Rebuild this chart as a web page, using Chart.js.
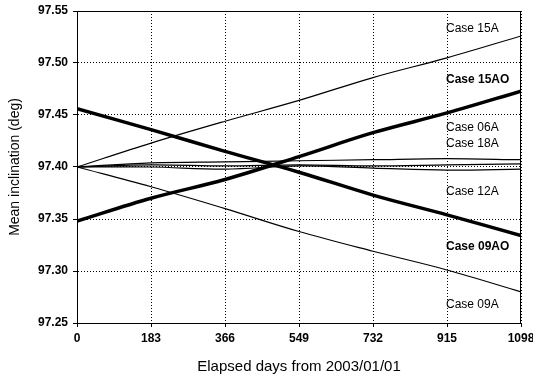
<!DOCTYPE html>
<html>
<head>
<meta charset="utf-8">
<script src="https://cdn.jsdelivr.net/npm/chart.js@4/dist/chart.umd.min.js"></script>
<style>
  html, body { margin: 0; padding: 0; background: #fff; }
  #wrap { width: 533px; height: 378px; position: relative; }
</style>
</head>
<body>
<div id="wrap"><canvas id="c" width="533" height="378"></canvas></div>
<script>
// ---- data ----
const days = [0, 183, 366, 549, 732, 915, 1098];
const yTicks = [97.25, 97.30, 97.35, 97.40, 97.45, 97.50, 97.55];

const case15A  = [97.400, 97.423, 97.444, 97.464, 97.486, 97.505, 97.526];
const case15AO = [97.348, 97.370, 97.388, 97.410, 97.433, 97.452, 97.473];
const case06A  = [97.400, 97.404, 97.405, 97.406, 97.407, 97.408, 97.407];
const case18A  = [97.400, 97.402, 97.401, 97.402, 97.401, 97.402, 97.403];
const case12A  = [97.400, 97.400, 97.398, 97.401, 97.399, 97.397, 97.398];
const case09AO = [97.456, 97.436, 97.415, 97.395, 97.373, 97.354, 97.334];
const case09A  = [97.400, 97.381, 97.360, 97.338, 97.319, 97.301, 97.280];

// curve labels (text, and the data point they sit at)
const labelTexts  = ['Case 15A', 'Case 15AO', 'Case 06A', 'Case 18A', 'Case 12A', 'Case 09AO', 'Case 09A'];
const labelDay    = 915;
const labelValues = [97.533, 97.484, 97.4375, 97.422, 97.376, 97.323, 97.268];
const labelBold   = [false, true, false, false, false, true, false];

// ---- chart ----
function pts(vals) { return days.map((d, i) => ({ x: d, y: vals[i] })); }
function ds(label, vals, w) {
  return { label, data: pts(vals), borderColor: '#000', backgroundColor: '#000',
           borderWidth: w, pointRadius: 0, tension: 0.35, fill: false };
}

const frame = {
  id: 'frame',
  afterDatasetsDraw(chart) {
    const { ctx, chartArea: a } = chart;
    ctx.save();
    ctx.strokeStyle = '#000';
    ctx.lineWidth = 1;
    ctx.setLineDash([]);
    ctx.strokeRect(a.left + 0.5, a.top + 0.5, a.right - a.left - 1, a.bottom - a.top);
    ctx.restore();
    const xs = chart.scales.x, ys = chart.scales.y;
    ctx.save();
    ctx.fillStyle = '#000';
    ctx.textAlign = 'left';
    ctx.textBaseline = 'middle';
    labelTexts.forEach((t, i) => {
      ctx.font = (labelBold[i] ? 'bold ' : '') + '12px "Liberation Sans", Arial, sans-serif';
      ctx.fillText(t, xs.getPixelForValue(labelDay) - 1, ys.getPixelForValue(labelValues[i]));
    });
    ctx.restore();
  }
};

new Chart(document.getElementById('c'), {
  type: 'line',
  data: {
    datasets: [
      ds('Case 15A', case15A, 1.2),
      ds('Case 15AO', case15AO, 3.5),
      ds('Case 06A', case06A, 1.2),
      ds('Case 18A', case18A, 1.2),
      ds('Case 12A', case12A, 1.2),
      ds('Case 09AO', case09AO, 3.5),
      ds('Case 09A', case09A, 1.2)
    ]
  },
  options: {
    responsive: false,
    animation: false,
    devicePixelRatio: 1,
    layout: { padding: { top: 11, right: 12, left: 0, bottom: 0 } },
    plugins: { legend: { display: false }, tooltip: { enabled: false } },
    scales: {
      x: {
        type: 'linear', min: 0, max: 1098,
        afterBuildTicks(s) { s.ticks = days.map(v => ({ value: v })); },
        afterFit(s) { s.height = 55; s.paddingLeft = 0; s.paddingRight = 0; },
        ticks: { color: '#000', font: { family: '"Liberation Sans", Arial, sans-serif', size: 12, weight: 'bold' },
                 padding: 4, maxRotation: 0, autoSkip: false, callback: v => String(v) },
        grid: { color: '#000', tickLength: 4, tickBorderDash: [], lineWidth: 1 },
        border: { display: true, color: '#000', width: 1, dash: [1, 2] },
        title: { display: true, text: 'Elapsed days from 2003/01/01', color: '#000',
                 font: { family: '"Liberation Sans", Arial, sans-serif', size: 15 }, padding: { top: 0, bottom: 2 } }
      },
      y: {
        type: 'linear', min: 97.25, max: 97.55,
        afterBuildTicks(s) { s.ticks = yTicks.map(v => ({ value: v })); },
        afterFit(s) { s.width = 77; s.paddingTop = 0; s.paddingBottom = 0; },
        ticks: { color: '#000', font: { family: '"Liberation Sans", Arial, sans-serif', size: 12, weight: 'bold' },
                 padding: 5, autoSkip: false, callback: v => Number(v).toFixed(2) },
        grid: { color: '#000', tickLength: 4, tickBorderDash: [], lineWidth: 1 },
        border: { display: true, color: '#000', width: 1, dash: [1, 2] },
        title: { display: true, text: 'Mean inclination (deg)', color: '#000',
                 font: { family: '"Liberation Sans", Arial, sans-serif', size: 14 }, padding: { top: 7, bottom: 0 } }
      }
    }
  },
  plugins: [frame]
});
</script>
</body>
</html>
